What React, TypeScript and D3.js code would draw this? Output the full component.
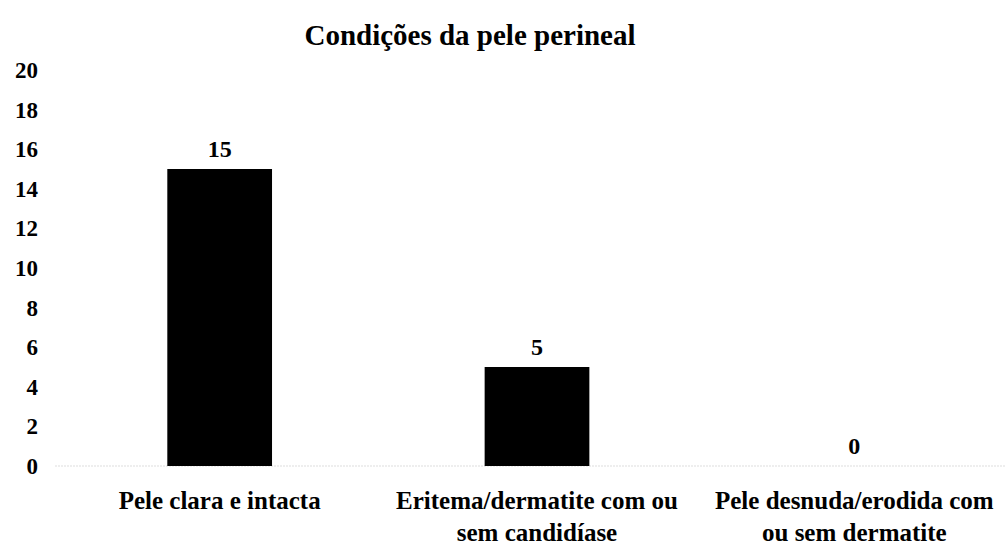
import React from "react";
import * as d3 from "d3";

const categories: string[][] = [
  ["Pele clara e intacta"],
  ["Eritema/dermatite com ou", "sem candidíase"],
  ["Pele desnuda/erodida com", "ou sem dermatite"],
];
const values: number[] = [15, 5, 0];
const yTicks: number[] = [0, 2, 4, 6, 8, 10, 12, 14, 16, 18, 20];
const title = "Condições da pele perineal";

const W = 1006;
const H = 554;
const FONT = "'Liberation Serif', 'Times New Roman', serif";

export default function App() {
  const keys = categories.map((_, i) => String(i));
  const x = d3.scaleBand<string>().domain(keys).range([61, 1013]).paddingInner(0.67).paddingOuter(0.335);
  const y = d3.scaleLinear().domain([0, 20]).range([466, 70]);
  return (
    <svg width={W} height={H} style={{ position: "absolute", left: 0, top: 0, background: "#fff" }}>
      <rect x={0} y={0} width={W} height={H} fill="#fff" />
      <text x={470} y={45} textAnchor="middle" fontFamily={FONT} fontWeight="bold" fontSize={29}>
        {title}
      </text>
      {yTicks.map((t) => (
        <text key={t} x={38} y={y(t)} dy="0.35em" textAnchor="end" fontFamily={FONT} fontWeight="bold" fontSize={23}>
          {t}
        </text>
      ))}
      <line x1={55} x2={W} y1={y(0)} y2={y(0)} stroke="#ddd" strokeWidth={1} strokeDasharray="2,1" />
      {values.map((v, i) => {
        const bx = x(String(i))!;
        const bw = x.bandwidth();
        const cx = bx + bw / 2;
        return (
          <g key={i}>
            <rect x={bx} y={y(v)} width={bw} height={y(0) - y(v)} fill="#000" />
            <text x={cx} y={y(v) - 12} textAnchor="middle" fontFamily={FONT} fontWeight="bold" fontSize={24}>
              {v}
            </text>
            {categories[i].map((line, j) => (
              <text
                key={j}
                x={cx}
                y={509 + j * 32}
                textAnchor="middle"
                fontFamily={FONT}
                fontWeight="bold"
                fontSize={25}
              >
                {line}
              </text>
            ))}
          </g>
        );
      })}
    </svg>
  );
}
